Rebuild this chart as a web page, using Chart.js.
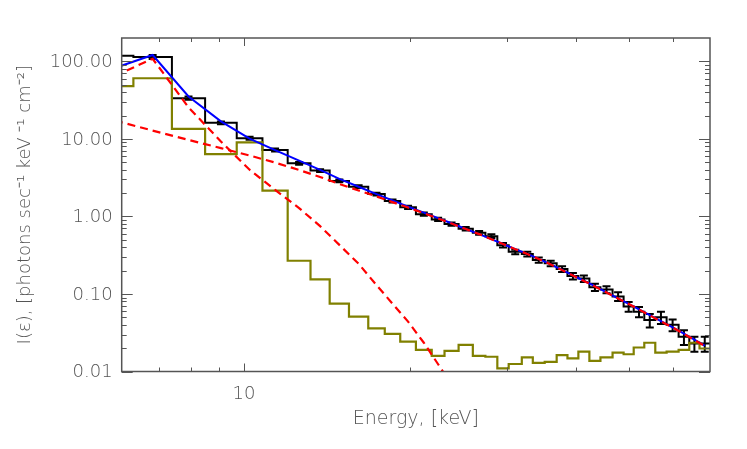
<!DOCTYPE html>
<html>
<head>
<meta charset="utf-8">
<script src="https://cdn.jsdelivr.net/npm/chart.js@4.4.0/dist/chart.umd.min.js"></script>
<style>
  html, body { margin: 0; padding: 0; background: #fff; }
  #wrap { width: 747px; height: 449px; }
</style>
</head>
<body>
<div id="wrap"><canvas id="spectrum" width="747" height="449"></canvas></div>
<script>
// energy bin edges (keV), one more than the number of bins
const binEdges = [5.4, 6.3, 7.4, 8.5, 9.7, 10.8, 12.0, 13.2, 14.3, 15.5, 16.8, 18.0, 19.2, 20.5,
  21.9, 23.1, 24.5, 26.0, 27.4, 28.8, 30.2, 31.9, 33.4, 35.1, 36.9, 38.6, 40.4, 42.3, 44.3,
  46.6, 48.8, 50.9, 53.2, 55.7, 58.4, 61.4, 64.2, 67.0, 70.0];

// observed photon flux and 1-sigma errors per bin
const dataFlux = [118, 114, 33.5, 16.1, 10.2, 7.2, 4.85, 3.9, 2.87, 2.42, 1.94, 1.58, 1.31, 1.07,
  0.915, 0.797, 0.693, 0.615, 0.557, 0.426, 0.349, 0.327, 0.274, 0.248, 0.21, 0.170, 0.158,
  0.122, 0.114, 0.093, 0.069, 0.059, 0.046, 0.050, 0.040, 0.028, 0.023, 0.023];
const dataErr = [5.5, 7, 1.6, 0.7, 0.45, 0.3, 0.2, 0.16, 0.12, 0.1, 0.08, 0.07, 0.06, 0.05,
  0.045, 0.04, 0.037, 0.034, 0.032, 0.028, 0.024, 0.023, 0.021, 0.02, 0.018, 0.016, 0.015,
  0.013, 0.012, 0.012, 0.010, 0.009, 0.009, 0.009, 0.007, 0.006, 0.005, 0.005];

// background level per bin
const bgFlux = [48, 60.5, 13.5, 6.35, 9.0, 2.15, 0.268, 0.154, 0.075, 0.051, 0.036, 0.0305,
  0.0243, 0.019, 0.0159, 0.0185, 0.022, 0.0159, 0.0155, 0.0110, 0.0125, 0.0152, 0.0129, 0.0133,
  0.0163, 0.0148, 0.018, 0.0137, 0.0152, 0.0175, 0.0167, 0.0204, 0.0235, 0.0175, 0.018, 0.019,
  0.0235, 0.0198];

// fit components at bin centres
const thermalFit = [65, 108, 25.5, 9.25, 4.0, 2.2, 1.28, 0.75, 0.43, 0.245, 0.13, 0.075, 0.044,
  0.0235, 0.0124, 0.0068, null, null, null, null, null, null, null, null, null, null, null,
  null, null, null, null, null, null, null, null, null, null, null];
const powerFit = [17.2, 12.8, 9.7, 7.6, 6.1, 4.95, 3.97, 3.23, 2.62, 2.16, 1.81, 1.53, 1.30, 1.10,
  0.94, 0.81, 0.687, 0.591, 0.509, 0.440, 0.378, 0.328, 0.283, 0.240, 0.203, 0.173, 0.147,
  0.125, 0.1046, 0.0876, 0.0742, 0.0631, 0.0529, 0.0442, 0.0370, 0.0305, 0.0255, 0.0213];
const modelTotal = [82.2, 120.8, 35.2, 16.85, 10.1, 7.15, 5.25, 3.98, 3.05, 2.41, 1.94, 1.61,
  1.34, 1.12, 0.952, 0.817, 0.689, 0.592, 0.510, 0.441, 0.379, 0.329, 0.284, 0.241, 0.204,
  0.174, 0.148, 0.126, 0.105, 0.088, 0.0745, 0.0634, 0.0532, 0.0445, 0.0372, 0.0307, 0.0257,
  0.0215];

// axes
const xRange = [6, 70];
const yRange = [0.01, 200];
const xMajor = [10];
const xMinor = [7, 8, 9, 20, 30, 40, 50, 60];
const yMajor = [0.01, 0.1, 1, 10, 100];

const FONT = "'DejaVu Sans', 'Liberation Sans', sans-serif";
const INK = '#555';

const binCenters = binEdges.slice(0, -1).map((e, i) => Math.sqrt(e * binEdges[i + 1]));

function histPoints(vals) {
  const pts = vals.map((v, i) => ({ x: binEdges[i], y: v }));
  pts.push({ x: binEdges[vals.length], y: vals[vals.length - 1] });
  return pts;
}

function curvePoints(vals) {
  return vals.map((v, i) => ({ x: binCenters[i], y: v })).filter(p => p.y !== null);
}

const yMinor = [];
for (let d = 0.01; d < yRange[1]; d *= 10) {
  for (let k = 2; k <= 9; k++) {
    const v = +(d * k).toPrecision(3);
    if (v < yRange[1]) yMinor.push(v);
  }
}

// error bars on the measured spectrum
const errorBars = {
  id: 'errorBars',
  afterDatasetDraw(chart, args) {
    if (args.index !== 0) return;
    const { ctx, chartArea } = chart;
    const xs = chart.scales.x, ys = chart.scales.y;
    ctx.save();
    ctx.beginPath();
    ctx.rect(chartArea.left, chartArea.top, chartArea.right - chartArea.left, chartArea.bottom - chartArea.top);
    ctx.clip();
    ctx.strokeStyle = '#000';
    ctx.lineWidth = 2;
    binCenters.forEach((c, i) => {
      const x = xs.getPixelForValue(c);
      const y1 = ys.getPixelForValue(dataFlux[i] + dataErr[i]);
      const y2 = ys.getPixelForValue(Math.max(dataFlux[i] - dataErr[i], 1e-4));
      ctx.beginPath();
      ctx.moveTo(x, y1); ctx.lineTo(x, y2);
      ctx.moveTo(x - 4, y1); ctx.lineTo(x + 4, y1);
      ctx.moveTo(x - 4, y2); ctx.lineTo(x + 4, y2);
      ctx.stroke();
    });
    ctx.restore();
  }
};

// IDL style box with inward ticks
const frameTicks = {
  id: 'frameTicks',
  afterDraw(chart) {
    const { ctx, chartArea: a } = chart;
    const xs = chart.scales.x, ys = chart.scales.y;
    ctx.save();
    ctx.strokeStyle = INK;
    ctx.lineWidth = 1.5;
    ctx.strokeRect(a.left, a.top, a.right - a.left, a.bottom - a.top);
    ctx.lineWidth = 1;
    ctx.beginPath();
    const xt = (v, len) => {
      const x = Math.round(xs.getPixelForValue(v)) + 0.5;
      ctx.moveTo(x, a.bottom); ctx.lineTo(x, a.bottom - len);
      ctx.moveTo(x, a.top); ctx.lineTo(x, a.top + len);
    };
    const yt = (v, len) => {
      const y = Math.round(ys.getPixelForValue(v)) + 0.5;
      ctx.moveTo(a.left, y); ctx.lineTo(a.left + len, y);
      ctx.moveTo(a.right, y); ctx.lineTo(a.right - len, y);
    };
    xMajor.forEach(v => xt(v, 8));
    xMinor.forEach(v => xt(v, 4));
    yMajor.forEach(v => yt(v, 11));
    yMinor.forEach(v => yt(v, 5));
    ctx.stroke();

    ctx.fillStyle = INK;
    ctx.font = '200 18px ' + FONT;
    ctx.textAlign = 'right';
    ctx.textBaseline = 'middle';
    yMajor.forEach(v => ctx.fillText(v.toFixed(2), a.left - 9, ys.getPixelForValue(v) + 1));
    ctx.textAlign = 'center';
    xMajor.forEach(v => ctx.fillText(String(v), xs.getPixelForValue(v), a.bottom + 23));
    ctx.restore();
  }
};

const ctx = document.getElementById('spectrum').getContext('2d');
const chart = new Chart(ctx, {
  type: 'line',
  data: {
    datasets: [
      { label: 'Data', data: histPoints(dataFlux), stepped: 'before', borderColor: '#000',
        borderWidth: 2, pointRadius: 0, fill: false, order: 5 },
      { label: 'Background', data: histPoints(bgFlux), stepped: 'before', borderColor: '#808000',
        borderWidth: 2.2, pointRadius: 0, fill: false, order: 4 },
      { label: 'Total', data: curvePoints(modelTotal), borderColor: '#0000ff',
        borderWidth: 2, pointRadius: 0, tension: 0, fill: false, order: 3 },
      { label: 'Thermal', data: curvePoints(thermalFit), borderColor: '#ff0000',
        borderWidth: 2.2, borderDash: [8, 5], pointRadius: 0, tension: 0, fill: false, order: 2 },
      { label: 'Non-thermal', data: curvePoints(powerFit), borderColor: '#ff0000',
        borderWidth: 2.2, borderDash: [8, 5], pointRadius: 0, tension: 0, fill: false, order: 1 }
    ]
  },
  options: {
    responsive: false,
    animation: false,
    devicePixelRatio: 1,
    layout: { padding: { top: 38, right: 37, left: 0, bottom: 0 } },
    plugins: { legend: { display: false }, tooltip: { enabled: false } },
    scales: {
      x: {
        type: 'logarithmic', min: xRange[0], max: xRange[1],
        grid: { display: false }, border: { display: false },
        ticks: { display: false },
        title: { display: true, text: 'Energy, [keV]', color: INK,
          font: { family: FONT, size: 19, weight: 200 }, padding: { top: 0, bottom: 18.6 } },
        afterFit(scale) { scale.height = 77.5; }
      },
      y: {
        type: 'logarithmic', min: yRange[0], max: yRange[1],
        grid: { display: false }, border: { display: false },
        ticks: { display: false },
        title: { display: true, text: 'I(\u03b5), [photons sec\u207b\u00b9 keV \u207b\u00b9 cm\u207b\u00b2]',
          color: INK, font: { family: FONT, size: 18, weight: 200 }, padding: { top: 15, bottom: 0 } },
        afterFit(scale) { scale.width = 121.7; }
      }
    }
  },
  plugins: [errorBars, frameTicks]
});
</script>
</body>
</html>
